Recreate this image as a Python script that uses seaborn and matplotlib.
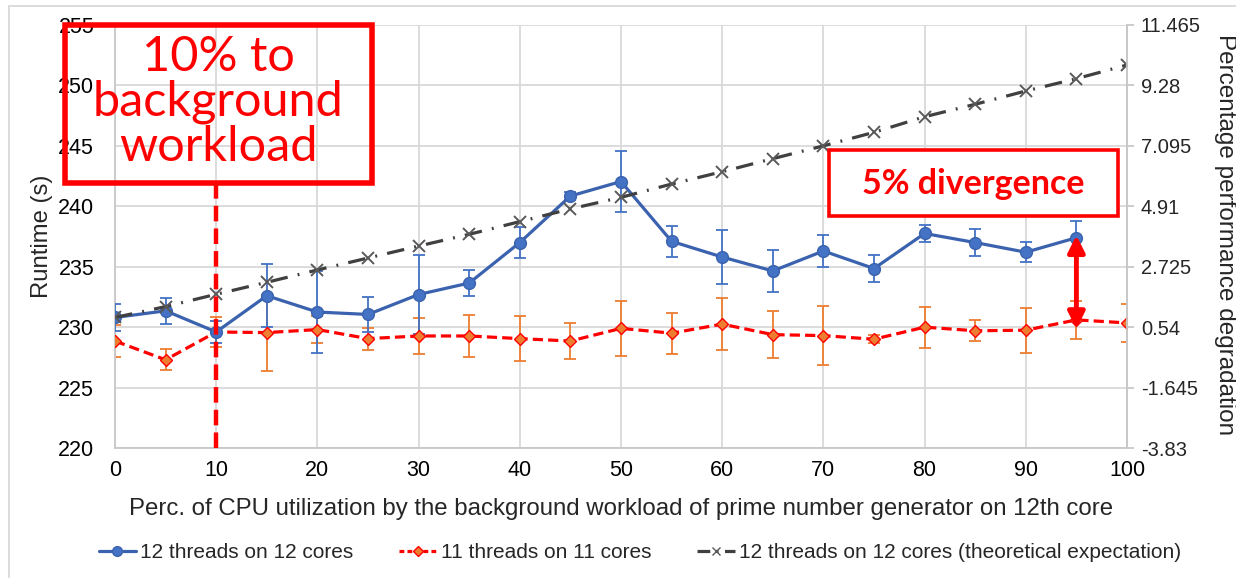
import numpy as np
import pandas as pd
import matplotlib
matplotlib.use("Agg")
import matplotlib.pyplot as plt
import seaborn as sns
from matplotlib.patches import Rectangle
from matplotlib.lines import Line2D

# ---------------- data ----------------
cpu_pct = [0, 5, 10, 15, 20, 25, 30, 35, 40, 45, 50, 55, 60, 65, 70, 75, 80, 85, 90, 95, 100]

threads12 = [230.8, 231.35, 229.6, 232.6, 231.25, 231.05, 232.7, 233.65, 237.0, 240.85,
             242.05, 237.1, 235.8, 234.65, 236.3, 234.85, 237.75, 237.0, 236.2, 237.4]
threads12_err = [1.1, 1.05, 0.9, 2.6, 3.4, 1.45, 3.25, 1.1, 1.25, 0.3,
                 2.55, 1.3, 2.2, 1.75, 1.3, 1.15, 0.7, 1.1, 0.85, 1.35]

threads11 = [228.85, 227.3, 229.6, 229.55, 229.8, 229.05, 229.27, 229.27, 229.05, 228.85,
             229.9, 229.5, 230.25, 229.38, 229.3, 229.0, 230.0, 229.7, 229.75, 230.6, 230.35]
threads11_err = [1.3, 0.87, 1.25, 3.15, 1.12, 0.92, 1.5, 1.7, 1.87, 1.47,
                 2.25, 1.7, 2.15, 1.93, 2.43, 0.33, 1.7, 0.88, 1.87, 1.6, 1.6]

theoretical = [230.8, 231.7, 232.72, 233.71, 234.73, 235.72, 236.71, 237.68, 238.73, 239.78,
               240.74, 241.84, 242.86, 243.94, 245.0, 246.12, 247.41, 248.44, 249.54, 250.56, 251.69]

left_ticks = [220, 225, 230, 235, 240, 245, 250, 255]
right_ticks = [-3.83, -1.645, 0.54, 2.725, 4.91, 7.095, 9.28, 11.465]
right_tick_labels = ["-3.83", "-1.645", "0.54", "2.725", "4.91", "7.095", "9.28", "11.465"]
x_ticks = [0, 10, 20, 30, 40, 50, 60, 70, 80, 90, 100]

series_names = ["12 threads on 12 cores", "11 threads on 11 cores",
                "12 threads on 12 cores (theoretical expectation)"]

# ---------------- style ----------------
sns.set_style("white")
plt.rcParams['font.family'] = ['Liberation Sans', 'DejaVu Sans']

W, H = 1236, 578
fig = plt.figure(figsize=(W / 100, H / 100), dpi=100)
ax = fig.add_axes([115 / W, 1 - 448 / H, 1012 / W, 423 / H])

BLUE_LINE = '#3A62AE'
BLUE = '#4472C4'
ORANGE = '#ED7D31'
RED = '#FF0000'
GRAY = '#404040'

df12 = pd.DataFrame({'x': cpu_pct[:len(threads12)], 'y': threads12, 'e': threads12_err})
df11 = pd.DataFrame({'x': cpu_pct, 'y': threads11, 'e': threads11_err})
dfth = pd.DataFrame({'x': cpu_pct, 'y': theoretical})

# error bars
ax.errorbar(df12['x'], df12['y'], yerr=df12['e'], fmt='none', ecolor=BLUE,
            elinewidth=1.3, capsize=4, capthick=1.3, zorder=3)
ax.errorbar(df11['x'], df11['y'], yerr=df11['e'], fmt='none', ecolor=ORANGE,
            elinewidth=1.3, capsize=4, capthick=1.3, zorder=2)

sns.lineplot(data=df11, x='x', y='y', ax=ax, color=RED, lw=2.3,
             linestyle=(0, (3.2, 1.6)), marker='D', markersize=6.5,
             markerfacecolor=ORANGE, markeredgecolor=RED, markeredgewidth=1.0,
             errorbar=None, zorder=4)
sns.lineplot(data=df12, x='x', y='y', ax=ax, color=BLUE_LINE, lw=2.3,
             marker='o', markersize=8.5, markerfacecolor=BLUE,
             markeredgecolor=BLUE_LINE, markeredgewidth=1.0,
             errorbar=None, zorder=5)
sns.lineplot(data=dfth, x='x', y='y', ax=ax, color=GRAY, lw=2.3,
             linestyle=(0, (5.5, 3.2, 0.6, 3.2)), marker='x', markersize=8,
             markeredgecolor='#595959', markeredgewidth=1.4,
             errorbar=None, zorder=6)

ax.set_xlim(0, 100)
ax.set_ylim(220, 255)
ax.set_xticks(x_ticks)
ax.set_yticks(left_ticks)
ax.grid(True, color='#D9D9D9', lw=1.3)
ax.set_axisbelow(True)
ax.spines['top'].set_visible(False)
for s in ['left', 'bottom', 'right']:
    ax.spines[s].set_color('#C8C8C8')
    ax.spines[s].set_linewidth(1.3)
ax.tick_params(axis='y', length=0, pad=15, labelsize=15.5, colors='black')
ax.tick_params(axis='x', length=0, pad=9, labelsize=15.5, colors='black')
ax.set_xlabel("Perc. of CPU utilization by the background workload of prime number generator on 12th core",
              fontsize=17.3)
ax.xaxis.set_label_coords(0.5, -0.118)
ax.set_ylabel("Runtime (s)", fontsize=17.2)
ax.yaxis.set_label_coords(-0.061, 0.5)

ax2 = ax.twinx()
ax2.set_ylim(right_ticks[0], right_ticks[-1])
ax2.set_yticks(right_ticks)
ax2.set_yticklabels(right_tick_labels)
ax2.tick_params(axis='y', length=5, width=1.3, color='#C8C8C8', pad=5, labelsize=14.5)
for s in ['top', 'left', 'bottom']:
    ax2.spines[s].set_visible(False)
ax2.spines['right'].set_color('#C8C8C8')
ax2.spines['right'].set_linewidth(1.3)
ax2.set_ylabel("Percentage performance degradation", fontsize=17.5, rotation=270)
ax2.yaxis.set_label_coords(1.108, 0.505)
ax2.grid(False)

# ---------------- annotations ----------------
# vertical dashed marker at 10%
ax.plot([10, 10], [220, 241.9], color=RED, lw=3.2, linestyle=(0, (3.5, 1.6)),
        clip_on=False, zorder=7)
# big box (transparent)
fig.add_artist(Rectangle((65 / W, 1 - 183 / H), 307 / W, 158 / H, transform=fig.transFigure,
                         fill=False, edgecolor=RED, lw=4, zorder=10))
fig.text(218 / W, 1 - 102 / H, "10% to\nbackground\nworkload", ha='center', va='center',
         fontsize=35, color=RED, family=['Lato', 'DejaVu Sans'], linespacing=1.03, zorder=11)
# divergence box
fig.add_artist(Rectangle((829 / W, 1 - 216 / H), 289 / W, 66 / H, transform=fig.transFigure,
                         fill=True, facecolor='white', edgecolor=RED, lw=2.6, zorder=10))
fig.text(973 / W, 1 - 184 / H, "5% divergence", ha='center', va='center',
         fontsize=24.5, fontweight='bold', color=RED, family=['Lato', 'DejaVu Sans'], zorder=11)
# double arrow
ax.annotate('', xy=(95, 229.85), xytext=(95, 237.6),
            arrowprops=dict(arrowstyle='<|-|>', color=RED, lw=3.5, mutation_scale=25,
                            shrinkA=0, shrinkB=0), zorder=8)

# outer chart frame (partially visible)
fig.add_artist(Line2D([9 / W, 9 / W], [0, 1 - 6 / H], transform=fig.transFigure,
                      color='#D9D9D9', lw=1.3))
fig.add_artist(Line2D([9 / W, 1], [1 - 6 / H, 1 - 6 / H], transform=fig.transFigure,
                      color='#D9D9D9', lw=1.3))

# ---------------- legend ----------------
handles = [
    Line2D([], [], color=BLUE_LINE, lw=2.3, marker='o', markersize=7,
           markerfacecolor=BLUE, markeredgecolor=BLUE_LINE),
    Line2D([], [], color=RED, lw=2.3, linestyle=(0, (1.5, 1)), marker='D', markersize=5.5,
           markerfacecolor=ORANGE, markeredgecolor=RED),
    Line2D([], [], color=GRAY, lw=2.3, linestyle=(0, (4, 2, 0.6, 2)), marker='x', markersize=6,
           markeredgecolor='#595959'),
]
fig.legend(handles, series_names, loc='center', bbox_to_anchor=(640 / W, 1 - 553 / H),
           ncol=3, frameon=False, fontsize=15, handlelength=1.8, handletextpad=0.2,
           columnspacing=2.2)

fig.savefig("out.png", dpi=100)
